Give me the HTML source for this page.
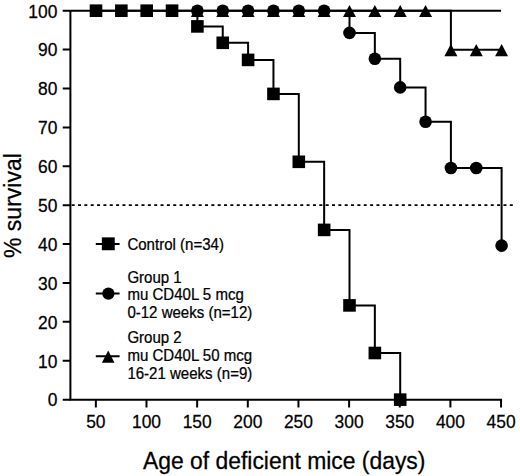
<!DOCTYPE html>
<html><head><meta charset="utf-8"><style>
html,body{margin:0;padding:0;background:#fff;width:520px;height:476px;overflow:hidden}
svg{display:block}
text{font-family:"Liberation Sans",sans-serif;fill:#000;stroke:#000;stroke-width:0.25px}
</style></head><body>
<svg width="520" height="476" viewBox="0 0 520 476">
<path d="M70.4 10.7V399.65H502.05" fill="none" stroke="#000" stroke-width="2.0"/>
<path d="M70.4 10.7H501.0" fill="none" stroke="#000" stroke-width="2.0"/>
<path d="M62.7 399.65H70.4M62.7 360.75H70.4M62.7 321.86H70.4M62.7 282.96H70.4M62.7 244.07H70.4M62.7 205.17H70.4M62.7 166.28H70.4M62.7 127.39H70.4M62.7 88.49H70.4M62.7 49.59H70.4M62.7 10.70H70.4M95.85 399.65V407.5M146.50 399.65V407.5M197.15 399.65V407.5M247.80 399.65V407.5M298.45 399.65V407.5M349.10 399.65V407.5M399.75 399.65V407.5M450.40 399.65V407.5M501.05 399.65V407.5" fill="none" stroke="#000" stroke-width="2.0"/>
<path d="M71.65 205.1H513.1" fill="none" stroke="#000" stroke-width="1.6" stroke-dasharray="3 3.35"/>
<path d="M96.00 10.70H121.35H146.70H172.05H197.40V26.40H222.75V42.80H248.10V59.90H273.45V93.90H298.80V161.80H324.15V229.90H349.50V305.40H374.85V353.00H400.20V399.65" fill="none" stroke="#000" stroke-width="2.0"/>
<path d="M197.40 10.70H222.75H248.10H273.45H298.80H324.15H349.50V32.90H374.85V58.80H400.20V87.40H425.55V121.75H450.90V168.00H476.25H501.60V245.60" fill="none" stroke="#000" stroke-width="2.0"/>
<path d="M349.50 10.70H374.85H400.20H425.55H450.90V49.85H476.25H501.60" fill="none" stroke="#000" stroke-width="2.0"/>
<g fill="#000"><path d="M349.50 4.90L356.00 17.10L343.00 17.10Z"/><path d="M374.85 4.90L381.35 17.10L368.35 17.10Z"/><path d="M400.20 4.90L406.70 17.10L393.70 17.10Z"/><path d="M425.55 4.90L432.05 17.10L419.05 17.10Z"/><path d="M450.90 44.05L457.40 56.25L444.40 56.25Z"/><path d="M476.25 44.05L482.75 56.25L469.75 56.25Z"/><path d="M501.60 44.05L508.10 56.25L495.10 56.25Z"/><path d="M197.40 4.80L203.90 17.00L190.90 17.00Z"/><path d="M222.75 4.80L229.25 17.00L216.25 17.00Z"/><path d="M248.10 4.80L254.60 17.00L241.60 17.00Z"/><path d="M273.45 4.80L279.95 17.00L266.95 17.00Z"/><path d="M298.80 4.80L305.30 17.00L292.30 17.00Z"/><path d="M324.15 4.80L330.65 17.00L317.65 17.00Z"/><circle cx="197.40" cy="10.70" r="6.30"/><circle cx="222.75" cy="10.70" r="6.30"/><circle cx="248.10" cy="10.70" r="6.30"/><circle cx="273.45" cy="10.70" r="6.30"/><circle cx="298.80" cy="10.70" r="6.30"/><circle cx="324.15" cy="10.70" r="6.30"/><circle cx="349.50" cy="32.90" r="6.30"/><circle cx="374.85" cy="58.80" r="6.30"/><circle cx="400.20" cy="87.40" r="6.30"/><circle cx="425.55" cy="121.75" r="6.30"/><circle cx="450.90" cy="168.00" r="6.30"/><circle cx="476.25" cy="168.00" r="6.30"/><circle cx="501.60" cy="245.60" r="6.30"/><rect x="89.70" y="4.40" width="12.60" height="12.60"/><rect x="115.05" y="4.40" width="12.60" height="12.60"/><rect x="140.40" y="4.40" width="12.60" height="12.60"/><rect x="165.75" y="4.40" width="12.60" height="12.60"/><rect x="191.10" y="20.10" width="12.60" height="12.60"/><rect x="216.45" y="36.50" width="12.60" height="12.60"/><rect x="241.80" y="53.60" width="12.60" height="12.60"/><rect x="267.15" y="87.60" width="12.60" height="12.60"/><rect x="292.50" y="155.50" width="12.60" height="12.60"/><rect x="317.85" y="223.60" width="12.60" height="12.60"/><rect x="343.20" y="299.10" width="12.60" height="12.60"/><rect x="368.55" y="346.70" width="12.60" height="12.60"/><rect x="393.90" y="393.35" width="12.60" height="12.60"/></g>
<text transform="translate(57.4 406.45) scale(1 1.03)" x="0" y="0" font-size="17.4" text-anchor="end">0</text><text transform="translate(57.4 367.56) scale(1 1.03)" x="0" y="0" font-size="17.4" text-anchor="end">10</text><text transform="translate(57.4 328.66) scale(1 1.03)" x="0" y="0" font-size="17.4" text-anchor="end">20</text><text transform="translate(57.4 289.76) scale(1 1.03)" x="0" y="0" font-size="17.4" text-anchor="end">30</text><text transform="translate(57.4 250.87) scale(1 1.03)" x="0" y="0" font-size="17.4" text-anchor="end">40</text><text transform="translate(57.4 211.97) scale(1 1.03)" x="0" y="0" font-size="17.4" text-anchor="end">50</text><text transform="translate(57.4 173.08) scale(1 1.03)" x="0" y="0" font-size="17.4" text-anchor="end">60</text><text transform="translate(57.4 134.19) scale(1 1.03)" x="0" y="0" font-size="17.4" text-anchor="end">70</text><text transform="translate(57.4 95.29) scale(1 1.03)" x="0" y="0" font-size="17.4" text-anchor="end">80</text><text transform="translate(57.4 56.39) scale(1 1.03)" x="0" y="0" font-size="17.4" text-anchor="end">90</text><text transform="translate(57.4 17.50) scale(1 1.03)" x="0" y="0" font-size="17.4" text-anchor="end">100</text><text transform="translate(95.85 427.7) scale(1 1.03)" x="0" y="0" font-size="17.4" text-anchor="middle">50</text><text transform="translate(146.50 427.7) scale(1 1.03)" x="0" y="0" font-size="17.4" text-anchor="middle">100</text><text transform="translate(197.15 427.7) scale(1 1.03)" x="0" y="0" font-size="17.4" text-anchor="middle">150</text><text transform="translate(247.80 427.7) scale(1 1.03)" x="0" y="0" font-size="17.4" text-anchor="middle">200</text><text transform="translate(298.45 427.7) scale(1 1.03)" x="0" y="0" font-size="17.4" text-anchor="middle">250</text><text transform="translate(349.10 427.7) scale(1 1.03)" x="0" y="0" font-size="17.4" text-anchor="middle">300</text><text transform="translate(399.75 427.7) scale(1 1.03)" x="0" y="0" font-size="17.4" text-anchor="middle">350</text><text transform="translate(450.40 427.7) scale(1 1.03)" x="0" y="0" font-size="17.4" text-anchor="middle">400</text><text transform="translate(501.05 427.7) scale(1 1.03)" x="0" y="0" font-size="17.4" text-anchor="middle">450</text>
<text x="20.7" y="205.6" font-size="23" text-anchor="middle" transform="rotate(-90 20.7 205.6)">% survival</text>
<text transform="translate(284.2 468.7) scale(1 1.03)" x="0" y="0" font-size="22.9" text-anchor="middle">Age of deficient mice (days)</text>
<path d="M95.8 243.9H119.6M95.8 293.5H119.6M95.8 356.2H119.6" fill="none" stroke="#000" stroke-width="2"/><g fill="#000"><rect x="101.85" y="237.35" width="12.90" height="12.90"/><circle cx="108.40" cy="293.60" r="6.10"/><path d="M108.2 350.4L114.5 362.7L101.9 362.7Z"/></g><text transform="translate(127.4 250.2) scale(0.94 1)" x="0" y="0" font-size="16">Control (n=34)</text><text transform="translate(127.4 283.0) scale(0.94 1)" x="0" y="0" font-size="16">Group 1</text><text transform="translate(127.4 300.4) scale(0.94 1)" x="0" y="0" font-size="16">mu CD40L 5 mcg</text><text transform="translate(127.4 318.2) scale(0.94 1)" x="0" y="0" font-size="16">0-12 weeks (n=12)</text><text transform="translate(127.4 343.0) scale(0.94 1)" x="0" y="0" font-size="16">Group 2</text><text transform="translate(127.4 360.9) scale(0.94 1)" x="0" y="0" font-size="16">mu CD40L 50 mcg</text><text transform="translate(127.4 379.0) scale(0.94 1)" x="0" y="0" font-size="16">16-21 weeks (n=9)</text>
</svg></body></html>
